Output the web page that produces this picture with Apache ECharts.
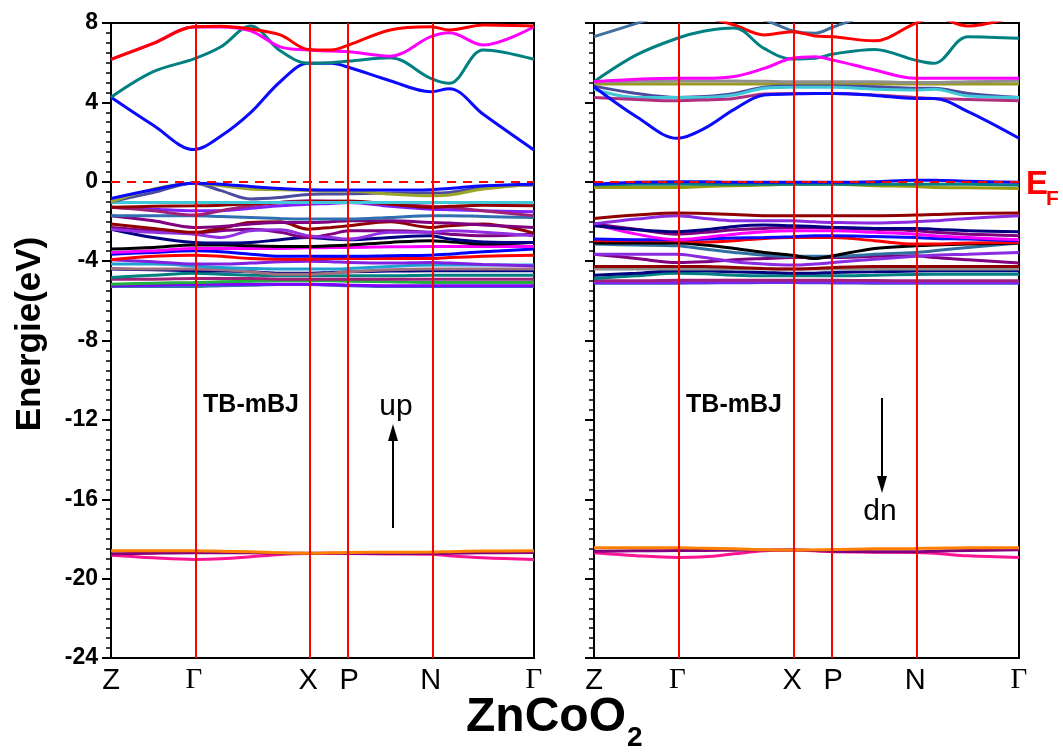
<!DOCTYPE html>
<html><head><meta charset="utf-8">
<script src="https://cdn.jsdelivr.net/npm/echarts@6/dist/echarts.min.js"></script>
<style>html,body{margin:0;padding:0;background:#fff}#c{width:1063px;height:753px}</style>
</head><body><div id="c"></div>
<script>
// k-path sample positions (fraction of path length)
const K = [0, 0.1, 0.196, 0.26, 0.33, 0.4, 0.466, 0.52, 0.563, 0.66, 0.756, 0.8, 0.88, 1];
const SYM_POS = [0, 0.196, 0.466, 0.563, 0.756, 1];
const SYM_LABELS = ['Z', 'Γ', 'X', 'P', 'N', 'Γ'];
const Y_MIN = -24, Y_MAX = 8, Y_STEP = 4;

// ---------- spin up ----------
const upConduction = [
  [4.26, 2.85, 1.62, 2.3, 3.48, 5.04, 5.97, 5.97, 5.76, 5.09, 4.54, 4.69, 3.4, 1.6],
  [4.26, 5.55, 6.19, 6.8, 7.85, 6.6, 5.97, 6.0, 6.08, 6.25, 5.21, 4.96, 6.64, 6.17],
  [6.17, 6.97, 7.8, 7.8, 7.6, 6.8, 6.64, 6.59, 6.55, 6.33, 7.31, 7.51, 6.89, 7.81],
  [6.17, 6.97, 7.81, 7.84, 7.7, 7.4, 6.67, 6.64, 6.9, 7.65, 7.81, 7.65, 7.9, 7.85]
];
const upConductionColors = ['#0a0aff', '#008080', '#ff00ff', '#ff0000'];

const upValence = [
  [-5.28, -5.28, -5.28, -5.24, -5.21, -5.18, -5.18, -5.21, -5.24, -5.28, -5.28, -5.28, -5.28, -5.28],
  [-5.24, -5.21, -5.18, -5.16, -5.16, -5.16, -5.16, -5.18, -5.21, -5.24, -5.24, -5.24, -5.24, -5.24],
  [-5.16, -5.11, -5.08, -5.04, -5.01, -4.99, -4.99, -4.99, -5.01, -5.04, -5.08, -5.08, -5.08, -5.08],
  [-4.91, -4.91, -4.87, -4.87, -4.87, -4.91, -4.91, -4.91, -4.91, -4.91, -4.91, -4.91, -4.91, -4.91],
  [-4.82, -4.71, -4.61, -4.66, -4.71, -4.74, -4.74, -4.74, -4.74, -4.74, -4.71, -4.71, -4.71, -4.71],
  [-4.40, -4.44, -4.49, -4.50, -4.54, -4.61, -4.61, -4.57, -4.54, -4.50, -4.49, -4.49, -4.49, -4.49],
  [-4.37, -4.40, -4.40, -4.44, -4.54, -4.66, -4.66, -4.61, -4.54, -4.44, -4.40, -4.40, -4.40, -4.40],
  [-4.15, -4.15, -4.24, -4.32, -4.37, -4.40, -4.40, -4.40, -4.37, -4.27, -4.20, -4.20, -4.20, -4.20],
  [-3.93, -4.03, -4.15, -4.15, -4.10, -4.03, -4.00, -4.03, -4.07, -4.10, -4.07, -4.10, -4.17, -4.24],
  [-3.93, -3.76, -3.70, -3.76, -3.87, -3.90, -3.90, -3.87, -3.87, -3.87, -3.87, -3.82, -3.76, -3.70],
  [-3.65, -3.56, -3.48, -3.53, -3.65, -3.76, -3.76, -3.76, -3.76, -3.73, -3.70, -3.65, -3.53, -3.39],
  [-3.56, -3.48, -3.36, -3.36, -3.36, -3.36, -3.33, -3.31, -3.31, -3.28, -3.26, -3.26, -3.26, -3.26],
  [-3.39, -3.31, -3.19, -3.19, -3.23, -3.26, -3.26, -3.23, -3.19, -3.06, -2.97, -3.03, -3.14, -3.06],
  [-2.39, -2.81, -3.06, -3.09, -3.06, -2.92, -2.81, -2.89, -2.92, -2.81, -2.72, -2.89, -3.03, -3.06],
  [-2.30, -2.47, -2.59, -2.47, -2.39, -2.55, -2.81, -2.64, -2.47, -2.47, -2.55, -2.64, -2.72, -2.64],
  [-2.39, -2.55, -2.64, -2.81, -2.47, -2.42, -2.72, -2.81, -2.89, -2.55, -2.55, -2.47, -2.55, -2.72],
  [-2.13, -2.35, -2.55, -2.35, -2.05, -2.02, -2.39, -2.30, -2.22, -2.02, -2.30, -2.22, -2.13, -2.59],
  [-1.71, -1.97, -2.30, -2.25, -2.13, -2.05, -2.05, -2.02, -1.97, -1.97, -2.05, -2.08, -2.18, -2.30],
  [-1.71, -1.71, -1.71, -1.75, -1.80, -1.85, -1.88, -1.88, -1.88, -1.80, -1.71, -1.71, -1.75, -1.80],
  [-1.29, -1.38, -1.46, -1.46, -1.34, -1.21, -1.13, -1.09, -1.04, -1.24, -1.38, -1.41, -1.46, -1.51],
  [-1.29, -1.46, -1.68, -1.46, -1.21, -1.04, -0.96, -0.97, -1.01, -1.13, -1.24, -1.29, -1.46, -1.71],
  [-1.29, -1.24, -1.21, -1.18, -1.11, -1.04, -1.01, -0.99, -0.97, -1.13, -1.29, -1.24, -1.18, -1.21],
  [-1.04, -1.04, -1.04, -1.04, -1.04, -1.04, -1.04, -1.04, -1.04, -1.04, -1.04, -1.04, -1.04, -1.04],
  [-1.01, -0.54, -0.07, -0.45, -0.87, -0.79, -0.64, -0.62, -0.61, -0.57, -0.57, -0.54, -0.29, -0.17],
  [-1.01, -0.37, -0.07, -0.20, -0.37, -0.40, -0.44, -0.47, -0.47, -0.62, -0.71, -0.67, -0.37, -0.12],
  [-0.84, -0.40, -0.07, -0.12, -0.24, -0.34, -0.40, -0.42, -0.42, -0.42, -0.40, -0.34, -0.20, -0.12]
];
const upValenceColors = ['#3070b0', '#8000ff', '#20b040', '#a0207a', '#008080', '#000080', '#a07080', '#20a0d0',
  '#8020e0', '#ff0000', '#0000ff', '#ff00ff', '#000000', '#000080', '#800080', '#9030e0', '#900000', '#800080',
  '#3070b0', '#8020ff', '#a0207a', '#900000', '#40c8d8', '#4b4ba0', '#9aa52a', '#0a0aff'];

const upCore = [
  [-18.82, -18.95, -19.03, -19.0, -18.9, -18.78, -18.73, -18.73, -18.74, -18.76, -18.77, -18.85, -18.95, -19.03],
  [-18.75, -18.72, -18.7, -18.7, -18.7, -18.72, -18.72, -18.72, -18.72, -18.74, -18.74, -18.72, -18.7, -18.68],
  [-18.6, -18.6, -18.6, -18.62, -18.65, -18.7, -18.72, -18.7, -18.68, -18.67, -18.66, -18.64, -18.61, -18.6]
];
const upCoreColors = ['#ff1493', '#800080', '#ff8000'];

// ---------- spin down ----------
const dnConduction = [
  [7.31, 7.98, 8.6, 8.8, 8.8, 8.6, 8.4, 8.4, 8.6, 8.8, 9.0, 9.0, 8.8, 8.6],
  [8.9, 8.8, 8.7, 8.5, 8.3, 8.15, 7.61, 7.48, 7.8, 8.5, 8.9, 9.0, 9.0, 9.0],
  [9.0, 8.8, 8.6, 8.3, 7.9, 7.4, 7.56, 7.35, 7.31, 7.1, 7.98, 8.3, 7.85, 8.4],
  [5.04, 6.39, 7.23, 7.6, 7.75, 6.72, 6.18, 6.22, 6.44, 6.67, 6.13, 5.97, 7.31, 7.23],
  [4.92, 4.92, 4.92, 4.92, 4.92, 4.92, 4.92, 4.92, 4.92, 4.92, 4.92, 4.92, 4.92, 4.92],
  [5.04, 5.06, 5.08, 5.08, 5.08, 5.06, 5.04, 5.04, 5.04, 5.04, 5.0, 5.0, 5.04, 5.08],
  [5.04, 5.16, 5.21, 5.21, 5.3, 5.71, 6.22, 6.3, 6.13, 5.63, 5.21, 5.21, 5.21, 5.21],
  [4.82, 4.45, 4.25, 4.29, 4.45, 4.76, 4.82, 4.82, 4.82, 4.79, 4.71, 4.71, 4.45, 4.25],
  [4.66, 4.25, 4.25, 4.25, 4.37, 4.71, 4.76, 4.76, 4.76, 4.66, 4.62, 4.66, 4.32, 4.25],
  [4.25, 4.15, 4.08, 4.12, 4.2, 4.42, 4.45, 4.45, 4.45, 4.37, 4.25, 4.2, 4.15, 4.08],
  [4.79, 3.28, 2.19, 2.69, 3.65, 4.37, 4.42, 4.45, 4.45, 4.35, 4.2, 4.2, 3.53, 2.19]
];
const dnConductionColors = ['#4070a0', '#4070a0', '#ff0000', '#008080', '#9a9a20', '#909090', '#ff00ff',
  '#4b4ba0', '#40c8d8', '#b0307f', '#0a0aff'];

const dnValence = [
  [-5.11, -5.11, -5.11, -5.10, -5.09, -5.08, -5.08, -5.09, -5.10, -5.11, -5.11, -5.11, -5.11, -5.11],
  [-5.08, -5.08, -5.07, -5.06, -5.06, -5.05, -5.05, -5.05, -5.06, -5.07, -5.08, -5.08, -5.08, -5.08],
  [-4.99, -4.99, -4.97, -4.96, -4.96, -4.96, -4.96, -4.96, -4.97, -4.98, -4.99, -4.99, -4.99, -4.99],
  [-4.87, -4.74, -4.61, -4.64, -4.71, -4.74, -4.74, -4.74, -4.74, -4.71, -4.67, -4.66, -4.66, -4.66],
  [-4.71, -4.61, -4.49, -4.49, -4.54, -4.57, -4.61, -4.61, -4.57, -4.54, -4.50, -4.49, -4.49, -4.49],
  [-4.40, -4.40, -4.40, -4.40, -4.40, -4.40, -4.40, -4.40, -4.40, -4.40, -4.40, -4.40, -4.40, -4.40],
  [-4.27, -4.27, -4.27, -4.27, -4.32, -4.37, -4.40, -4.37, -4.32, -4.27, -4.27, -4.27, -4.27, -4.27],
  [-3.65, -3.87, -4.07, -4.03, -3.93, -3.87, -3.82, -3.82, -3.82, -3.76, -3.73, -3.82, -3.93, -4.10],
  [-3.65, -3.65, -3.65, -3.82, -4.03, -4.15, -4.20, -4.15, -4.07, -3.90, -3.76, -3.70, -3.65, -3.56],
  [-3.14, -3.19, -3.23, -3.39, -3.56, -3.70, -3.76, -3.76, -3.76, -3.65, -3.56, -3.48, -3.31, -3.09],
  [-3.09, -3.09, -3.09, -3.19, -3.36, -3.56, -3.70, -3.87, -3.73, -3.36, -3.23, -3.19, -3.14, -3.09],
  [-2.97, -2.97, -2.97, -3.03, -2.97, -2.86, -2.81, -2.81, -2.81, -2.97, -3.14, -3.14, -3.09, -3.06],
  [-2.89, -2.92, -2.92, -2.89, -2.84, -2.81, -2.77, -2.72, -2.72, -2.76, -2.81, -2.86, -2.89, -2.97],
  [-2.13, -2.64, -2.92, -2.81, -2.64, -2.52, -2.47, -2.47, -2.47, -2.55, -2.64, -2.72, -2.81, -2.92],
  [-2.13, -2.39, -2.64, -2.55, -2.42, -2.35, -2.30, -2.30, -2.32, -2.39, -2.47, -2.55, -2.64, -2.72],
  [-2.22, -2.42, -2.52, -2.42, -2.25, -2.18, -2.22, -2.25, -2.30, -2.35, -2.35, -2.39, -2.47, -2.52],
  [-2.13, -1.88, -1.71, -1.85, -1.97, -1.97, -1.97, -2.02, -2.05, -2.08, -2.02, -1.97, -1.85, -1.71],
  [-1.85, -1.68, -1.58, -1.60, -1.65, -1.71, -1.71, -1.71, -1.71, -1.71, -1.68, -1.65, -1.60, -1.58],
  [-0.29, -0.29, -0.29, -0.24, -0.20, -0.17, -0.13, -0.13, -0.13, -0.20, -0.24, -0.29, -0.30, -0.34],
  [-0.17, -0.12, -0.12, -0.12, -0.12, -0.12, -0.12, -0.12, -0.12, -0.12, -0.12, -0.12, -0.12, -0.17],
  [-0.12, -0.03, 0, 0, -0.03, -0.03, -0.03, -0.03, -0.03, 0, 0.08, 0.08, 0.03, -0.03]
];
const dnValenceColors = ['#3050c0', '#8020ff', '#a0207a', '#008080', '#000080', '#909090', '#900000', '#800080',
  '#8a2be2', '#3070a0', '#000000', '#ff0000', '#0a0aff', '#ff00ff', '#800080', '#000080', '#8a2be2', '#900000',
  '#9a9a10', '#008080', '#0a0aff'];

const dnCore = [
  [-18.7, -18.85, -18.93, -18.9, -18.75, -18.6, -18.56, -18.6, -18.64, -18.67, -18.68, -18.72, -18.85, -18.93],
  [-18.62, -18.6, -18.58, -18.58, -18.57, -18.56, -18.56, -18.58, -18.62, -18.64, -18.65, -18.62, -18.58, -18.55],
  [-18.45, -18.45, -18.45, -18.47, -18.5, -18.55, -18.56, -18.55, -18.53, -18.5, -18.48, -18.47, -18.45, -18.45]
];
const dnCoreColors = ['#ff1493', '#800080', '#ff8000'];

// ---------- build ----------
const chart = echarts.init(document.getElementById('c'), null, {renderer: 'canvas'});

function bands(groups, colors, g) {
  return groups.map((vals, i) => ({
    type: 'line', xAxisIndex: g, yAxisIndex: g, silent: true, animation: false,
    data: K.map((k, j) => [k, vals[j]]), smooth: 0.35, symbol: 'none', clip: true,
    lineStyle: {color: colors[i], width: 3}, z: 2
  }));
}
function guides(g) {
  return {
    type: 'line', xAxisIndex: g, yAxisIndex: g, data: [], silent: true, animation: false, z: 4,
    markLine: {
      silent: true, symbol: 'none', animation: false, label: {show: false},
      data: SYM_POS.slice(1, SYM_POS.length - 1).map(x => ({xAxis: x, lineStyle: {color: '#ff0000', width: 2, type: 'solid'}}))
        .concat([{yAxis: 0, lineStyle: {color: '#ff0000', width: 2, type: [9, 7]}}])
    }
  };
}
function nearestLabel(v) {
  let bi = 0, bd = 1e9;
  SYM_POS.forEach((p, i) => { const d = Math.abs(p - v); if (d < bd) { bd = d; bi = i; } });
  const t = SYM_LABELS[bi];
  return t === 'Γ' ? '{g|Γ}' : '{n|' + t + '}';
}
function xAxis(g) {
  return {
    gridIndex: g, type: 'value', min: 0, max: 1,
    axisLine: {show: true, onZero: false, lineStyle: {color: '#000', width: 2}},
    axisTick: {show: false}, splitLine: {show: false},
    axisLabel: {
      customValues: SYM_POS, showMinLabel: true, showMaxLabel: true, hideOverlap: false, margin: 8,
      formatter: nearestLabel,
      rich: {
        n: {fontFamily: "'Liberation Sans Narrow','Arial Narrow','Liberation Sans',sans-serif", fontSize: 29, color: '#000'},
        g: {fontFamily: "'Liberation Serif','DejaVu Serif',serif", fontSize: 29, color: '#000'}
      }
    }
  };
}
function yAxis(g) {
  return {
    gridIndex: g, type: 'value', min: Y_MIN, max: Y_MAX, interval: Y_STEP,
    axisLine: {show: true, onZero: false, lineStyle: {color: '#000', width: 2}},
    axisTick: {show: true, inside: false, length: 9, lineStyle: {color: '#000', width: 2}},
    minorTick: {show: true, splitNumber: 8, length: 5, lineStyle: {color: '#000', width: 1.5}},
    splitLine: {show: false}, minorSplitLine: {show: false},
    axisLabel: {show: g === 0, margin: 13, color: '#000', fontFamily: "'Liberation Sans',Arial,sans-serif", fontWeight: 'bold', fontSize: 23}
  };
}

const series = []
  .concat(bands(upConduction, upConductionColors, 0))
  .concat(bands(upValence, upValenceColors, 0))
  .concat(bands(upCore, upCoreColors, 0))
  .concat([guides(0)])
  .concat(bands(dnConduction, dnConductionColors, 1))
  .concat(bands(dnValence, dnValenceColors, 1))
  .concat(bands(dnCore, dnCoreColors, 1))
  .concat([guides(1)]);

const bold = "'Liberation Sans',Arial,sans-serif";
chart.setOption({
  animation: false,
  backgroundColor: '#fff',
  grid: [
    {left: 111, top: 23, width: 423, height: 635, show: true, borderColor: '#000', borderWidth: 2, backgroundColor: 'transparent'},
    {left: 594, top: 23, width: 425, height: 635, show: true, borderColor: '#000', borderWidth: 2, backgroundColor: 'transparent'}
  ],
  xAxis: [xAxis(0), xAxis(1)],
  yAxis: [yAxis(0), yAxis(1)],
  series: series,
  graphic: [
    {type: 'text', x: 30, y: 334, rotation: Math.PI / 2, style: {text: 'Energie(eV)', font: "bold 35px " + bold, fill: '#000', textAlign: 'center', textVerticalAlign: 'middle'}},
    {type: 'text', x: 466, y: 718, style: {text: 'ZnCoO', font: "bold 48px " + bold, fill: '#000', textAlign: 'left', textVerticalAlign: 'middle'}},
    {type: 'text', x: 627, y: 738, style: {text: '2', font: "bold 28px " + bold, fill: '#000', textAlign: 'left', textVerticalAlign: 'middle'}},
    {type: 'text', x: 1026, y: 185, style: {text: 'E', font: "bold 33px " + bold, fill: '#ff0000', textAlign: 'left', textVerticalAlign: 'middle'}},
    {type: 'text', x: 1046, y: 199, style: {text: 'F', font: "bold 21px " + bold, fill: '#ff0000', textAlign: 'left', textVerticalAlign: 'middle'}},
    {type: 'text', x: 251, y: 405, style: {text: 'TB-mBJ', font: "bold 25px " + bold, fill: '#000', textAlign: 'center', textVerticalAlign: 'middle'}},
    {type: 'text', x: 734, y: 405, style: {text: 'TB-mBJ', font: "bold 25px " + bold, fill: '#000', textAlign: 'center', textVerticalAlign: 'middle'}},
    {type: 'text', x: 396, y: 407, style: {text: 'up', font: "30px " + bold, fill: '#000', textAlign: 'center', textVerticalAlign: 'middle'}},
    {type: 'text', x: 880, y: 512, style: {text: 'dn', font: "30px " + bold, fill: '#000', textAlign: 'center', textVerticalAlign: 'middle'}},
    {type: 'line', shape: {x1: 393, y1: 528, x2: 393, y2: 438}, style: {stroke: '#000', lineWidth: 2}},
    {type: 'polygon', shape: {points: [[393, 424], [388, 441], [398, 441]]}, style: {fill: '#000'}},
    {type: 'line', shape: {x1: 882, y1: 398, x2: 882, y2: 478}, style: {stroke: '#000', lineWidth: 2}},
    {type: 'polygon', shape: {points: [[882, 493], [877, 476], [887, 476]]}, style: {fill: '#000'}}
  ]
});
</script></body></html>
